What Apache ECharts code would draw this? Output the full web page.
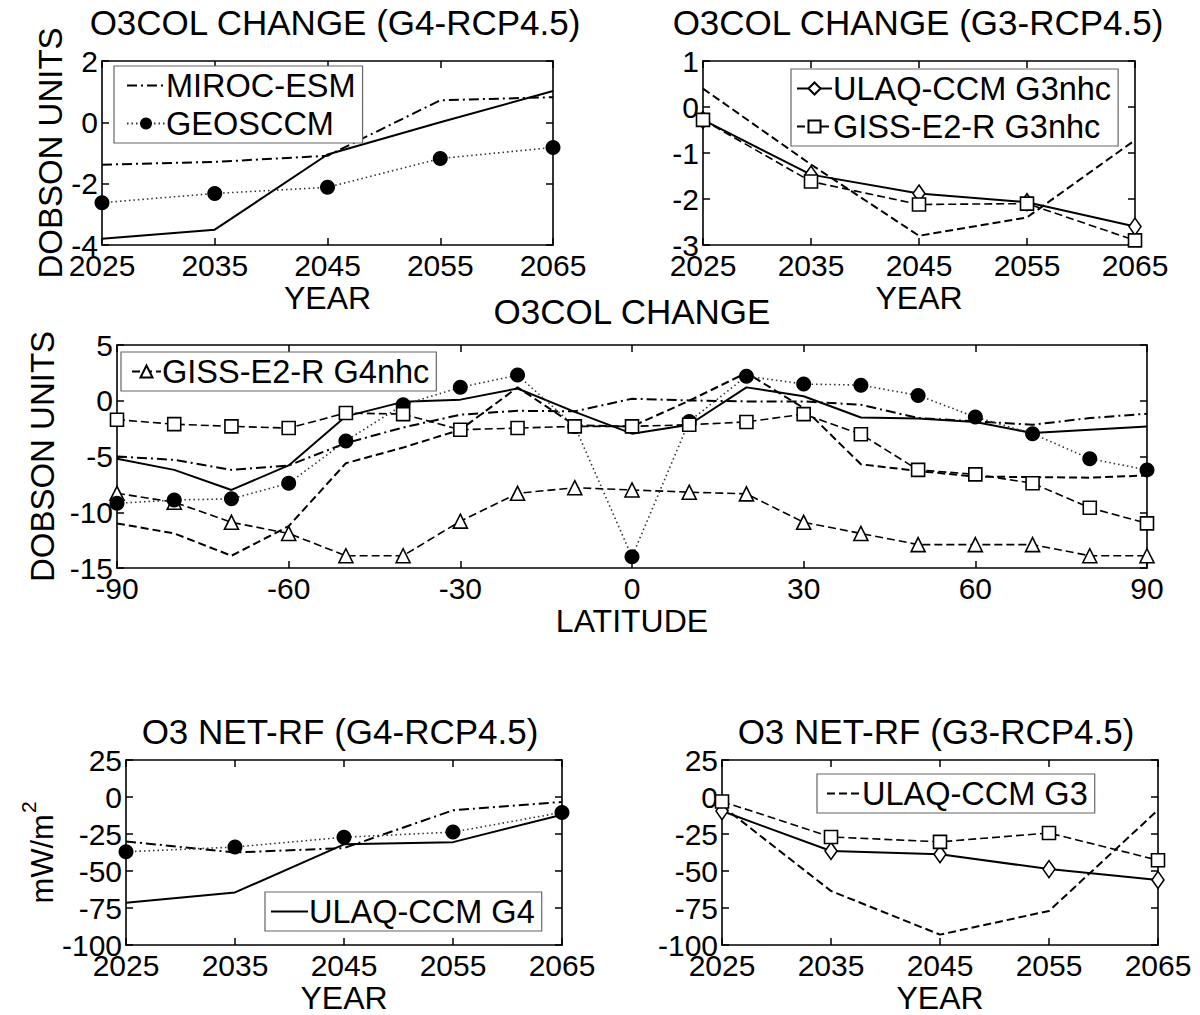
<!DOCTYPE html>
<html><head><meta charset="utf-8">
<script src="https://cdn.jsdelivr.net/npm/echarts@6/dist/echarts.min.js"></script>
<style>html,body{margin:0;padding:0;background:#fff}#c{width:1200px;height:1015px}</style>
</head><body><div id="c"></div>
<script>
// ---------- DATA ----------
const years = ['2025', '2035', '2045', '2055', '2065'];

// Top-left: O3COL CHANGE (G4-RCP4.5), Dobson units
const tlULAQ_G4 = [-3.8, -3.5, -1.05, 0.0, 1.02];
const tlMIROC   = [-1.38, -1.29, -1.09, 0.72, 0.82];
const tlGEOS    = [-2.62, -2.32, -2.12, -1.18, -0.82];

// Top-right: O3COL CHANGE (G3-RCP4.5), Dobson units
const trULAQ_G3nhc = [-0.28, -1.47, -1.88, -2.07, -2.6];
const trGISS_G3nhc = [-0.28, -1.62, -2.12, -2.1, -2.9];
const trULAQ_G3    = [0.4, -1.25, -2.8, -2.4, -0.72];

// Middle: O3COL CHANGE vs latitude
const lats = [-90, -80, -70, -60, -50, -40, -30, -20, -10, 0, 10, 20, 30, 40, 50, 60, 70, 80, 90];
const midULAQ_G4    = [-5.2, -6.2, -8.0, -5.8, -1.4, -0.1, 0.1, 1.1, -1.0, -2.95, -2.15, 1.2, 0.4, -1.5, -1.6, -1.9, -2.9, -2.6, -2.3];
const midGEOS       = [-9.2, -8.9, -8.8, -7.4, -3.6, -0.36, 1.2, 2.3, -2.3, -14.0, -1.85, 2.2, 1.5, 1.4, 0.48, -1.46, -2.95, -5.2, -6.2];
const midGISS_G3nhc = [-1.7, -2.1, -2.3, -2.45, -1.1, -1.2, -2.6, -2.45, -2.3, -2.3, -2.15, -1.9, -1.2, -3.0, -6.2, -6.6, -7.4, -9.6, -11.0];
const midGISS_G4nhc = [-8.3, -9.1, -10.9, -11.9, -13.9, -13.9, -10.8, -8.3, -7.8, -8.0, -8.2, -8.35, -10.9, -11.9, -12.9, -12.9, -12.9, -13.9, -13.9];
const midMIROC      = [-5.0, -5.3, -6.2, -5.8, -3.8, -2.4, -1.25, -0.9, -0.95, 0.18, 0.03, -0.06, -0.06, -0.36, -1.55, -1.85, -2.15, -1.55, -1.16];
const midULAQ_G3    = [-11.0, -11.9, -13.9, -11.25, -5.6, -4.2, -2.6, 1.2, -2.2, -2.3, 0.0, 2.5, -0.65, -5.7, -6.3, -6.8, -6.85, -6.9, -6.7];

// Bottom-left: O3 NET-RF (G4-RCP4.5), mW/m2
const blULAQ_G4 = [-71.5, -64.5, -32, -30.5, -12];
const blMIROC   = [-30, -37.5, -34.5, -9, -3.3];
const blGEOS    = [-37, -33.8, -27.2, -23.7, -10.4];

// Bottom-right: O3 NET-RF (G3-RCP4.5), mW/m2
const brULAQ_G3nhc = [-9.5, -36.5, -38.7, -48.7, -56];
const brGISS_G3nhc = [-3, -27, -30.3, -24.3, -42.7];
const brULAQ_G3    = [-6, -63.5, -93, -77, -8.8];

// ---------- STYLE ----------
const FONT = '"Liberation Sans", Arial, Helvetica, sans-serif';
const TICK = 30, NAME = 32, LEG = 32.5, TITLE = 35;

const STY = {
  solid:   {line: {type: 'solid', width: 2, color: '#000'}, symbol: 'none'},
  dashdot: {line: {type: [10, 4, 2, 4], width: 2, color: '#000'}, symbol: 'none'},
  dashed:  {line: {type: [8, 4], width: 2, color: '#000'}, symbol: 'none'},
  dotted:  {line: {type: [1.5, 3], width: 1.6, color: '#333'}, symbol: 'circle', size: 15, fill: '#000'},
  square:  {line: {type: [8, 4], width: 1.6, color: '#000'}, symbol: 'rect', size: 13, fill: '#fff'},
  diamond: {line: {type: 'solid', width: 2, color: '#000'}, symbol: 'diamond', size: [12, 17], fill: '#fff'},
  triangle:{line: {type: [8, 4], width: 1.6, color: '#000'}, symbol: 'triangle', size: 14, fill: '#fff'}
};

function mk(name, data, idx, sty, xs) {
  const s = STY[sty];
  return {
    name: name, type: 'line', xAxisIndex: idx * 2, yAxisIndex: idx * 2,
    data: xs ? xs.map((x, i) => [x, data[i]]) : data,
    lineStyle: s.line,
    symbol: s.symbol, symbolSize: s.size || 0, showSymbol: s.symbol !== 'none',
    showAllSymbol: true,
    itemStyle: {color: s.fill || '#000', borderColor: '#000', borderWidth: s.fill === '#fff' ? 1.6 : 0},
    z: s.symbol !== 'none' ? 3 : 2,
    silent: true
  };
}

const grids = [
  {left: 102, top: 61, width: 451, height: 184},
  {left: 703, top: 61, width: 432, height: 184},
  {left: 117, top: 345, width: 1030, height: 223},
  {left: 126, top: 760, width: 436, height: 188},
  {left: 722, top: 760, width: 436, height: 188}
];

const axLine = {show: true, onZero: false, lineStyle: {color: '#000', width: 1.6}};
const tickIn = {show: true, inside: true, length: 7, lineStyle: {color: '#000', width: 1.5}};
const lbl = {color: '#000', fontSize: TICK, fontFamily: FONT};

function xPair(gi, cfg, name) {
  const base = Object.assign({gridIndex: gi, axisLine: axLine, axisTick: Object.assign({}, tickIn, {alignWithLabel: true}), splitLine: {show: false}}, cfg);
  const bottom = Object.assign({}, base, {
    position: 'bottom',
    axisLabel: Object.assign({}, lbl, {margin: 5, interval: 0, hideOverlap: false}),
    name: name, nameLocation: 'middle', nameGap: 37,
    nameTextStyle: {color: '#000', fontSize: NAME, fontFamily: FONT}
  });
  const top = Object.assign({}, base, {position: 'top', axisLabel: {show: false}});
  return [bottom, top];
}
function yPair(gi, cfg, name, gap) {
  const base = Object.assign({gridIndex: gi, type: 'value', axisLine: axLine, axisTick: tickIn, splitLine: {show: false}}, cfg);
  const left = Object.assign({}, base, {
    position: 'left',
    axisLabel: Object.assign({}, lbl, {margin: 4, showMinLabel: true, showMaxLabel: true}),
    name: name, nameLocation: 'middle', nameGap: gap, nameRotate: 90,
    nameTextStyle: typeof name === 'string' && name.indexOf('{') === 0 ? {
      color: '#000', fontFamily: FONT,
      rich: {a: {fontSize: 31, fontFamily: FONT, color: '#000', lineHeight: 40, verticalAlign: 'bottom'},
             s: {fontSize: 21, fontFamily: FONT, color: '#000', lineHeight: 40, verticalAlign: 'top', padding: [0, 0, 0, 1]}}
    } : {color: '#000', fontSize: NAME + 1, fontFamily: FONT}
  });
  const right = Object.assign({}, base, {position: 'right', axisLabel: {show: false}});
  return [left, right];
}

const catX = {type: 'category', data: years, boundaryGap: false};
const latX = {type: 'value', min: -90, max: 90, interval: 30};

const xAxis = [].concat(
  xPair(0, catX, 'YEAR'),
  xPair(1, catX, 'YEAR'),
  xPair(2, latX, 'LATITUDE'),
  xPair(3, catX, 'YEAR'),
  xPair(4, catX, 'YEAR')
);
const yAxis = [].concat(
  yPair(0, {min: -4, max: 2, interval: 2}, 'DOBSON UNITS', 21),
  yPair(1, {min: -3, max: 1, interval: 1}, '', 40),
  yPair(2, {min: -15, max: 5, interval: 5}, 'DOBSON UNITS', 55),
  yPair(3, {min: -100, max: 25, interval: 25}, '{a|mW/m}{s|2}', 64),
  yPair(4, {min: -100, max: 25, interval: 25}, '', 40)
);

const series = [
  // top-left
  mk('MIROC-ESM', tlMIROC, 0, 'dashdot'),
  mk('GEOSCCM', tlGEOS, 0, 'dotted'),
  mk('ULAQ-CCM G4', tlULAQ_G4, 0, 'solid'),
  // top-right
  mk('ULAQ-CCM G3nhc', trULAQ_G3nhc, 1, 'diamond'),
  mk('GISS-E2-R G3nhc', trGISS_G3nhc, 1, 'square'),
  mk('ULAQ-CCM G3', trULAQ_G3, 1, 'dashed'),
  // middle
  mk('GISS-E2-R G4nhc', midGISS_G4nhc, 2, 'triangle', lats),
  mk('ULAQ-CCM G4', midULAQ_G4, 2, 'solid', lats),
  mk('GEOSCCM', midGEOS, 2, 'dotted', lats),
  mk('GISS-E2-R G3nhc', midGISS_G3nhc, 2, 'square', lats),
  mk('MIROC-ESM', midMIROC, 2, 'dashdot', lats),
  mk('ULAQ-CCM G3', midULAQ_G3, 2, 'dashed', lats),
  // bottom-left
  mk('ULAQ-CCM G4', blULAQ_G4, 3, 'solid'),
  mk('MIROC-ESM', blMIROC, 3, 'dashdot'),
  mk('GEOSCCM', blGEOS, 3, 'dotted'),
  // bottom-right
  mk('ULAQ-CCM G3nhc', brULAQ_G3nhc, 4, 'diamond'),
  mk('GISS-E2-R G3nhc', brGISS_G3nhc, 4, 'square'),
  mk('ULAQ-CCM G3', brULAQ_G3, 4, 'dashed')
];

// legend entries: names whose series have no marker get an invisible symbol
const noMarker = ['MIROC-ESM', 'ULAQ-CCM G4', 'ULAQ-CCM G3'];
function leg(names, left, top, padLeft, iw) {
  return {
    data: names.map(n => noMarker.indexOf(n) >= 0
      ? {name: n, itemStyle: {color: 'rgba(0,0,0,0)', borderColor: 'rgba(0,0,0,0)', borderWidth: 0, opacity: 0}}
      : {name: n}),
    left: left, top: top, orient: 'vertical',
    itemWidth: iw, itemHeight: 15, itemGap: 5,
    padding: [3, 7, 3, padLeft],
    borderColor: '#666', borderWidth: 1.2, backgroundColor: '#fff',
    selectedMode: false,
    textStyle: {color: '#000', fontSize: LEG, fontFamily: FONT, padding: [0, 0, 0, -4]}
  };
}
const legend = [
  leg(['MIROC-ESM', 'GEOSCCM'], 114, 66, 12, 38),
  leg(['ULAQ-CCM G3nhc', 'GISS-E2-R G3nhc'], 791, 69, 5, 35),
  leg(['GISS-E2-R G4nhc'], 121, 352, 10, 29),
  leg(['ULAQ-CCM G4'], 265, 892, 5, 37),
  leg(['ULAQ-CCM G3'], 817, 774, 9, 34)
];

function ttl(text, x, y) {
  return {type: 'text', x: x, y: y, silent: true,
    style: {text: text, font: TITLE + 'px ' + FONT, fill: '#000', align: 'center', verticalAlign: 'middle',
            textAlign: 'center', textVerticalAlign: 'middle'}};
}
const graphic = [
  ttl('O3COL CHANGE (G4-RCP4.5)', 335, 22),
  ttl('O3COL CHANGE (G3-RCP4.5)', 918, 22),
  ttl('O3COL CHANGE', 632, 311),
  ttl('O3 NET-RF (G4-RCP4.5)', 340, 731),
  ttl('O3 NET-RF (G3-RCP4.5)', 936, 731)
];

const chart = echarts.init(document.getElementById('c'), null, {renderer: 'svg'});
chart.setOption({
  animation: false,
  backgroundColor: '#fff',
  textStyle: {fontFamily: FONT},
  grid: grids, xAxis: xAxis, yAxis: yAxis, series: series, legend: legend, graphic: graphic
});
</script></body></html>
